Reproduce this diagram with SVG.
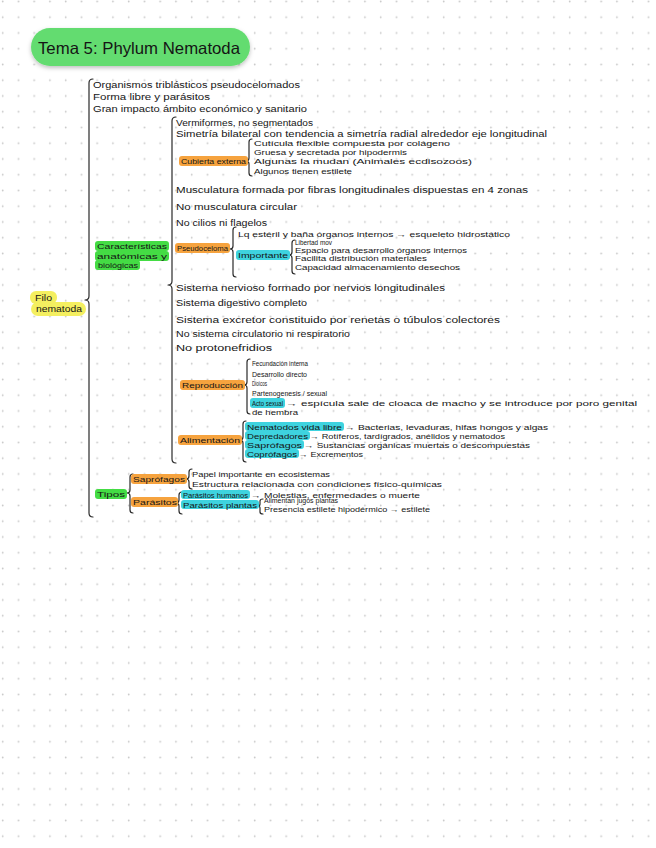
<svg xmlns="http://www.w3.org/2000/svg" width="656" height="848" viewBox="0 0 656 848">
<defs>
<pattern id="dots" patternUnits="userSpaceOnUse" width="15.75" height="15.75">
<circle cx="2.7" cy="1.5" r="0.9" fill="#c9c9c9"/>
</pattern>
<filter id="sh" x="-10%" y="-30%" width="120%" height="170%">
<feDropShadow dx="0" dy="2" stdDeviation="2" flood-color="#000" flood-opacity="0.25"/>
</filter>
<style>
text{font-family:"Liberation Sans",Arial,sans-serif;fill:#151515}
.m{font-size:8.5px}
.s{font-size:7px}
.xs{font-size:6.5px}
.br{fill:none;stroke:#2a2a2a;stroke-width:1.2;stroke-linecap:round;stroke-linejoin:round}
.hg{fill:#44dc44}
.ho{fill:#f6a33e}
.hc{fill:#3ed3df}
.hy{fill:#f4ef60}
</style>
</defs>
<rect width="656" height="848" fill="#ffffff"/>
<rect width="656" height="848" fill="url(#dots)"/>

<g id="title">
<rect x="31" y="28" width="219" height="38" rx="19" fill="#63dc70" filter="url(#sh)"/>
<text x="38" y="54" style="font-size:16.5px" textLength="202" lengthAdjust="spacingAndGlyphs">Tema 5: Phylum Nematoda</text>
</g>

<g id="connectors">
<path class="br" d="M93 79 Q89 79 89 83 L89 296 Q89 300 85 300 Q89 300 89 304 L89 513 Q89 517 93 517"/>
<path class="br" d="M176 117 Q172 117 172 121 L172 281 Q172 285 168 285 Q172 285 172 289 L172 459 Q172 463 176 463"/>
<path class="br" d="M252 139 Q249 139 249 142 L249 158 Q249 161 246 161 Q249 161 249 164 L249 173 Q249 176 252 176"/>
<path class="br" d="M236 227 Q233 227 233 230 L233 246 Q233 249 230 249 Q233 249 233 252 L233 274 Q233 277 236 277"/>
<path class="br" d="M295 240 Q292 240 292 243 L292 252 Q292 255 289 255 Q292 255 292 258 L292 271 Q292 274 295 274"/>
<path class="br" d="M250 359 Q247 359 247 362 L247 382 Q247 385 244 385 Q247 385 247 388 L247 411 Q247 414 250 414"/>
<path class="br" d="M246 421 Q243 421 243 424 L243 437 Q243 440 240 440 Q243 440 243 443 L243 459 Q243 462 246 462"/>
<path class="br" d="M133 474 Q130 474 130 477 L130 490 Q130 493 127 493 Q130 493 130 496 L130 510 Q130 513 133 513"/>
<path class="br" d="M192 469 Q189 469 189 472 L189 476 Q189 479 186 479 Q189 479 189 482 L189 486 Q189 489 192 489"/>
<path class="br" d="M182 492 Q179 492 179 495 L179 500 Q179 503 176 503 Q179 503 179 506 L179 511 Q179 514 182 514"/>
<path class="br" d="M263 499 Q260 499 260 501 L260 504 Q260 506 258 506 Q260 506 260 508 L260 512 Q260 514 263 514"/>
</g>

<g id="filo">
<rect class="hy" x="30" y="291" width="27" height="13" rx="6"/>
<rect class="hy" x="31" y="302" width="55" height="14" rx="7"/>
<text class="m" x="35" y="301" textLength="17" lengthAdjust="spacingAndGlyphs">Filo</text>
<text class="m" x="36" y="312" textLength="46" lengthAdjust="spacingAndGlyphs">nematoda</text>
</g>

<g id="general">
<text class="m" x="93" y="88" textLength="207" lengthAdjust="spacingAndGlyphs">Organismos triblásticos pseudocelomados</text>
<text class="m" x="93" y="99.5" textLength="117" lengthAdjust="spacingAndGlyphs">Forma libre y parásitos</text>
<text class="m" x="93" y="111.5" textLength="214" lengthAdjust="spacingAndGlyphs">Gran impacto ámbito económico y sanitario</text>
</g>

<g id="caracteristicas">
<rect class="hg" x="95" y="241" width="74" height="10" rx="3"/>
<rect class="hg" x="95" y="251" width="74" height="10" rx="3"/>
<rect class="hg" x="95" y="260" width="45" height="10" rx="3"/>
<text class="s" x="97" y="248.5" textLength="70" lengthAdjust="spacingAndGlyphs">Características</text>
<text class="s" x="97" y="258.5" textLength="70" lengthAdjust="spacingAndGlyphs">anatómicas y</text>
<text class="s" x="98" y="267.5" textLength="40" lengthAdjust="spacingAndGlyphs">biológicas</text>
</g>

<g id="anatomia">
<text class="m" x="176" y="125.5" textLength="137" lengthAdjust="spacingAndGlyphs">Vermiformes, no segmentados</text>
<text class="m" x="176" y="137" textLength="371" lengthAdjust="spacingAndGlyphs">Simetría bilateral con tendencia a simetría radial alrededor eje longitudinal</text>
<text class="m" x="176" y="193" textLength="352" lengthAdjust="spacingAndGlyphs">Musculatura formada por fibras longitudinales dispuestas en 4 zonas</text>
<text class="m" x="176" y="210" textLength="121" lengthAdjust="spacingAndGlyphs">No musculatura circular</text>
<text class="m" x="176" y="226" textLength="91" lengthAdjust="spacingAndGlyphs">No cilios ni flagelos</text>
<text class="m" x="176" y="291" textLength="269" lengthAdjust="spacingAndGlyphs">Sistema nervioso formado por nervios longitudinales</text>
<text class="m" x="176" y="306" textLength="131" lengthAdjust="spacingAndGlyphs">Sistema digestivo completo</text>
<text class="m" x="176" y="323" textLength="324" lengthAdjust="spacingAndGlyphs">Sistema excretor constituido por renetas o túbulos colectores</text>
<text class="m" x="176" y="337" textLength="174" lengthAdjust="spacingAndGlyphs">No sistema circulatorio ni respiratorio</text>
<text class="m" x="176" y="351" textLength="96" lengthAdjust="spacingAndGlyphs">No protonefridios</text>
</g>

<g id="cubierta">
<rect class="ho" x="179" y="156" width="69" height="10" rx="3"/>
<text class="s" x="181" y="163.5" textLength="65" lengthAdjust="spacingAndGlyphs">Cubierta externa</text>
<text class="s" x="254" y="145.5" textLength="196" lengthAdjust="spacingAndGlyphs">Cutícula flexible compuesta por colágeno</text>
<text class="s" x="254" y="154.5" textLength="153" lengthAdjust="spacingAndGlyphs">Gruesa y secretada por hipodermis</text>
<text class="s" x="254" y="163.5" textLength="218" lengthAdjust="spacingAndGlyphs">Algunas la mudan (Animales ecdisozoos)</text>
<text class="s" x="254" y="173.5" textLength="98" lengthAdjust="spacingAndGlyphs">Algunos tienen estilete</text>
</g>

<g id="pseudoceloma">
<rect class="ho" x="175" y="243" width="55" height="10" rx="3"/>
<text class="s" x="177" y="250.5" textLength="51" lengthAdjust="spacingAndGlyphs">Pseudoceloma</text>
<text class="s" x="238" y="236.5" textLength="272" lengthAdjust="spacingAndGlyphs">Lq estéril y baña órganos internos → esqueleto hidrostático</text>
</g>

<g id="importante">
<rect class="hc" x="236" y="250" width="54" height="10" rx="3"/>
<text class="s" x="238" y="257.5" textLength="50" lengthAdjust="spacingAndGlyphs">Importante</text>
<text class="xs" x="295" y="245.3" textLength="37" lengthAdjust="spacingAndGlyphs">Libertad mov</text>
<text class="xs" x="295" y="253.3" textLength="172" lengthAdjust="spacingAndGlyphs">Espacio para desarrollo órganos internos</text>
<text class="xs" x="295" y="261.3" textLength="132" lengthAdjust="spacingAndGlyphs">Facilita distribución materiales</text>
<text class="xs" x="295" y="270.3" textLength="165" lengthAdjust="spacingAndGlyphs">Capacidad almacenamiento desechos</text>
</g>

<g id="reproduccion">
<rect class="ho" x="180" y="380" width="65" height="10" rx="3"/>
<text class="s" x="182" y="387.5" textLength="61" lengthAdjust="spacingAndGlyphs">Reproducción</text>
<text class="s" x="252" y="365.5" textLength="56" lengthAdjust="spacingAndGlyphs">Fecundación interna</text>
<text class="s" x="252" y="376.5" textLength="55" lengthAdjust="spacingAndGlyphs">Desarrollo directo</text>
<text class="s" x="252" y="385.5" textLength="15" lengthAdjust="spacingAndGlyphs">Dioicos</text>
<text class="s" x="252" y="395.5" textLength="75" lengthAdjust="spacingAndGlyphs">Partenogenesis / sexual</text>
<rect class="hc" x="250" y="398" width="35" height="10" rx="3"/>
<text class="s" x="252" y="405.5" textLength="31" lengthAdjust="spacingAndGlyphs">Acto sexual</text>
<text class="s" x="286" y="405.5" textLength="351" lengthAdjust="spacingAndGlyphs">→ espícula sale de cloaca de macho y se introduce por poro genital</text>
<text class="s" x="252" y="414.5" textLength="46" lengthAdjust="spacingAndGlyphs">de hembra</text>
</g>

<g id="alimentacion">
<rect class="ho" x="178" y="435" width="64" height="10" rx="3"/>
<text class="s" x="180" y="442.5" textLength="60" lengthAdjust="spacingAndGlyphs">Alimentación</text>
<rect class="hc" x="245" y="422" width="99" height="9" rx="3"/>
<rect class="hc" x="245" y="431" width="65" height="9" rx="3"/>
<rect class="hc" x="245" y="440" width="59" height="9" rx="3"/>
<rect class="hc" x="245" y="449" width="54" height="9" rx="3"/>
<text class="s" x="247" y="429.5" textLength="95" lengthAdjust="spacingAndGlyphs">Nematodos vida libre</text>
<text class="s" x="345" y="429.5" textLength="203" lengthAdjust="spacingAndGlyphs">→ Bacterias, levaduras, hifas hongos y algas</text>
<text class="s" x="247" y="438.5" textLength="61" lengthAdjust="spacingAndGlyphs">Depredadores</text>
<text class="s" x="310" y="438.5" textLength="195" lengthAdjust="spacingAndGlyphs">→ Rotíferos, tardígrados, anélidos y nematodos</text>
<text class="s" x="247" y="447.5" textLength="55" lengthAdjust="spacingAndGlyphs">Saprófagos</text>
<text class="s" x="304" y="447.5" textLength="226" lengthAdjust="spacingAndGlyphs">→ Sustancias orgánicas muertas o descompuestas</text>
<text class="s" x="247" y="456.5" textLength="50" lengthAdjust="spacingAndGlyphs">Coprófagos</text>
<text class="s" x="299" y="456.5" textLength="64" lengthAdjust="spacingAndGlyphs">→ Excrementos</text>
</g>

<g id="tipos">
<rect class="hg" x="95" y="489" width="32" height="10" rx="3"/>
<text class="s" x="97" y="496.5" textLength="28" lengthAdjust="spacingAndGlyphs">Tipos</text>
</g>

<g id="saprofagos">
<rect class="ho" x="131" y="474" width="56" height="10" rx="3"/>
<text class="s" x="133" y="481.5" textLength="52" lengthAdjust="spacingAndGlyphs">Saprófagos</text>
<text class="s" x="192" y="476.5" textLength="138" lengthAdjust="spacingAndGlyphs">Papel importante en ecosistemas</text>
<text class="s" x="192" y="486.5" textLength="250" lengthAdjust="spacingAndGlyphs">Estructura relacionada con condiciones físico-químicas</text>
</g>

<g id="parasitos">
<rect class="ho" x="131" y="497" width="47" height="10" rx="3"/>
<text class="s" x="133" y="504.5" textLength="44" lengthAdjust="spacingAndGlyphs">Parásitos</text>
<rect class="hc" x="181" y="490" width="69" height="9" rx="3"/>
<text class="s" x="183" y="497.5" textLength="65" lengthAdjust="spacingAndGlyphs">Parásitos humanos</text>
<text class="s" x="251" y="497.5" textLength="169" lengthAdjust="spacingAndGlyphs">→ Molestias, enfermedades o muerte</text>
<rect class="hc" x="181" y="500" width="78" height="9" rx="3"/>
<text class="s" x="183" y="507.5" textLength="74" lengthAdjust="spacingAndGlyphs">Parásitos plantas</text>
<text class="xs" x="264" y="503.3" textLength="74" lengthAdjust="spacingAndGlyphs">Alimentan jugos plantas</text>
<text class="xs" x="264" y="512.3" textLength="166" lengthAdjust="spacingAndGlyphs">Presencia estilete hipodérmico → estilete</text>
</g>
</svg>
